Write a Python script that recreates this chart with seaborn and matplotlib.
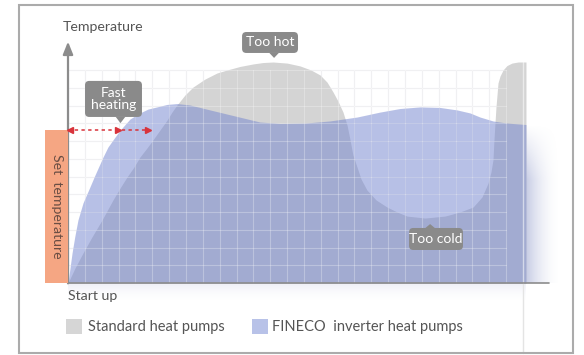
import numpy as np
import matplotlib
matplotlib.use("Agg")
import matplotlib.pyplot as plt
import seaborn as sns
from matplotlib.patches import Rectangle, FancyBboxPatch, Polygon

# Time (x) and temperature (y), both measured in grid cells from the start-up point
standard_time = [0, 0.42, 0.89, 1.42, 2.02, 2.67, 3.09, 3.50, 3.92, 4.27, 4.69, 5.04,
                 5.46, 5.88, 6.17, 6.47, 6.94, 7.42, 8.13, 8.84, 9.44, 10.21, 10.98,
                 11.57, 12.17, 13.00, 13.77, 14.42, 14.96, 15.37, 15.73, 16.02, 16.32,
                 16.56, 16.74, 16.91, 17.15, 17.39, 17.74, 18.28, 18.93, 19.53, 20.12,
                 21.19, 22.37, 23.26, 24.04, 24.57, 24.93, 25.10, 25.22, 25.28, 25.34,
                 25.40, 25.46, 25.52, 25.64, 25.82, 26.05, 26.35, 26.71, 27.18]
standard_temp = [0, 0.85, 1.69, 2.59, 3.55, 4.68, 5.35, 5.97, 6.54, 7.10, 7.61, 8.06,
                 8.62, 9.18, 9.63, 10.03, 10.59, 11.04, 11.49, 11.83, 12.0, 12.20, 12.34,
                 12.42, 12.45, 12.39, 12.23, 12.0, 11.72, 11.32, 10.76, 10.25, 9.63,
                 8.90, 8.06, 7.21, 6.54, 5.86, 5.24, 4.68, 4.28, 4.0, 3.77,
                 3.66, 3.77, 4.0, 4.28, 4.85, 5.63, 6.25, 6.93, 8.06, 9.01,
                 9.92, 10.59, 11.27, 11.66, 12.0, 12.25, 12.39, 12.45, 12.45]

fineco_time = [0, 0.12, 0.24, 0.40, 0.59, 0.89, 1.25, 1.60, 2.08, 2.37, 2.67, 2.97,
               3.26, 3.68, 4.27, 4.75, 5.28, 5.88, 6.47, 7.24, 8.43, 9.91, 11.39,
               12.58, 14.07, 15.55, 17.15, 18.52, 19.70, 20.89, 22.08, 23.09, 23.86,
               24.45, 25.22, 26.05, 27.18]
fineco_temp = [0, 0.85, 1.69, 2.60, 3.55, 4.51, 5.30, 6.08, 7.10, 7.66, 8.06, 8.45,
               8.79, 9.24, 9.58, 9.80, 9.92, 10.06, 10.11, 10.03, 9.75, 9.41, 9.07,
               8.99, 9.01, 9.13, 9.35, 9.63, 9.83, 9.92, 9.89, 9.75, 9.58,
               9.35, 9.13, 9.01, 8.93]

set_temperature = 8.62
fast_heating_span = [0.0, 4.87]

series_labels = ["Standard heat pumps", "FINECO  inverter heat pumps"]
y_label = "Temperature"
x_label = "Start up"
band_label = "Set  temperature"
hot_label = "Too hot"
cold_label = "Too cold"
fast_label = "Fast\nheating"

sns.set_theme(style="white")
plt.rcParams["font.family"] = ["Lato", "DejaVu Sans"]

GREY = "#d4d4d4"
BLUE = "#7183cf"
BLUE_SWATCH = "#b8c2e8"
AXIS = "#8c8c8c"
TEXT = "#555555"
CALLOUT = "#8a8a8a"
RED = "#d8333b"
ORANGE = "#f5a683"

# one data unit = one grid cell (16.85 px wide, 17.75 px tall), origin at the axes corner
CELL_W, CELL_H = 16.85, 17.75
fig = plt.figure(figsize=(5.84, 3.55), dpi=100)
ax = fig.add_axes([0, 0, 1, 1])
ax.set_xlim(-68 / CELL_W, (584 - 68) / CELL_W)
ax.set_ylim(-(355 - 283) / CELL_H, 283 / CELL_H)
ax.axis("off")

# outer frame
fig.patches.append(Rectangle((19 / 584, 2 / 355), 554 / 584, 348 / 355, fill=False,
                             ec="#ababab", lw=1.5, transform=fig.transFigure))

n_cols, n_rows = 26, 12
# background grid
for gx in range(n_cols + 1):
    ax.plot([gx, gx], [0, n_rows], color="#ebebee", lw=0.8, zorder=1)
for gy in range(1, n_rows + 1):
    ax.plot([0, n_cols], [gy, gy], color="#ebebee", lw=0.8, zorder=1)

# soft shadow to the right of and beneath the curves
end_x = fineco_time[-1]
nx, ny = 80, 80
tx = np.linspace(0, 1, nx)
ty = np.linspace(0, 1, ny)
fx = (1 - tx) ** 2
fy = np.clip((1 - ty) / 0.35, 0, 1)
shade = np.zeros((ny, nx, 4))
shade[..., 0], shade[..., 1], shade[..., 2] = 0.47, 0.52, 0.75
shade[..., 3] = 0.42 * np.outer(fy, fx)
ax.imshow(shade, extent=(end_x, end_x + 2.1, 0, fineco_temp[-1]), origin="lower",
          aspect="auto", zorder=1.5, interpolation="bilinear")
under = np.zeros((40, 2, 4))
under[..., 0], under[..., 1], under[..., 2] = 0.47, 0.52, 0.75
under[..., 3] = (0.14 * np.linspace(0, 1, 40) ** 2)[:, None]
ax.imshow(under, extent=(0, end_x, -1.2, 0), origin="lower", aspect="auto",
          zorder=1.5, interpolation="bilinear")

# the two temperature curves
ax.fill_between(standard_time, 0, standard_temp, color=GREY, lw=0, zorder=2)
ax.fill_between(fineco_time, 0, fineco_temp, color=BLUE, alpha=0.5, lw=0, zorder=3)

# grid showing through the fills
for gx in range(n_cols + 1):
    ax.plot([gx, gx], [0, n_rows], color="white", alpha=0.28, lw=0.8, zorder=4)
for gy in range(1, n_rows + 1):
    ax.plot([0, n_cols], [gy, gy], color="white", alpha=0.28, lw=0.8, zorder=4)

# faint end-of-chart line
ax.plot([27.0, 27.0], [-3.94, 0], color="#e4e4e4", lw=1, zorder=4)
ax.plot([27.0, 27.0], [0, 12.45], color="white", alpha=0.55, lw=1, zorder=4)

# axes
ax.plot([0, 28.55], [0, 0], color=AXIS, lw=1.2, zorder=5)
ax.annotate("", xy=(0, 13.6), xytext=(0, -0.02),
            arrowprops=dict(arrowstyle="-|>,head_width=0.3,head_length=0.75",
                            color=AXIS, lw=1.6, shrinkA=0, shrinkB=0, mutation_scale=10),
            zorder=5)
ax.text(-0.3, 14.42, y_label, ha="left", va="center", fontsize=10.2, color=TEXT)
ax.text(0, -0.75, x_label, ha="left", va="center", fontsize=10.2, color=TEXT)

# set temperature band
ax.add_patch(Rectangle((-1.36, 0), 1.36, set_temperature, color=ORANGE, lw=0, zorder=5))
ax.text(-0.68, set_temperature / 2, band_label, rotation=-90, ha="center", va="center",
        fontsize=10.2, color="#6a4e44", zorder=6)

# fast-heating span along the set temperature
rise = int(np.argmax(fineco_temp)) + 1
reach_x = float(np.interp(set_temperature, fineco_temp[:rise], fineco_time[:rise]))
ax.plot(fast_heating_span, [set_temperature] * 2, color=RED, lw=1.1, ls=(0, (2.2, 2.2)),
        zorder=6)
ax.plot([fast_heating_span[0] + 0.12], [set_temperature], marker="<", ms=4.5, color=RED,
        mec=RED, zorder=6)
ax.plot([reach_x - 0.12, fast_heating_span[1] - 0.12], [set_temperature] * 2, ls="none",
        marker=">", ms=4.5, color=RED, mec=RED, zorder=6)


def callout(cx, cy, w, h, text, tip, pointer_up=False):
    ax.add_patch(FancyBboxPatch((cx - w / 2, cy - h / 2), w, h,
                                boxstyle="round,pad=0,rounding_size=0.25",
                                fc=CALLOUT, ec="none", zorder=7,
                                mutation_aspect=CELL_W / CELL_H))
    base_y = cy + h / 2 if pointer_up else cy - h / 2
    ax.add_patch(Polygon([(tip[0] - 0.28, base_y), (tip[0] + 0.28, base_y), tip],
                         closed=True, fc=CALLOUT, ec="none", zorder=7))
    ax.text(cx, cy, text, ha="center", va="center", color="white", fontsize=10,
            linespacing=1.05, zorder=8)


peak = int(np.argmax(standard_temp))
peak_x, peak_y = standard_time[peak], standard_temp[peak]
callout(11.99, 13.55, 3.32, 1.18, hot_label, (peak_x + 0.06, peak_y + 0.23))

low = int(np.argmin(standard_temp[20:])) + 20
low_x, low_y = standard_time[low], standard_temp[low]
callout(21.84, 2.48, 3.2, 1.24, cold_label, (low_x + 0.3, low_y - 0.34), pointer_up=True)

callout(2.70, 10.37, 3.38, 2.03, fast_label, (reach_x, set_temperature + 0.39))

# legend
ax.add_patch(Rectangle((-0.12, -2.87), 0.95, 0.84, color="#d6d6d6", lw=0))
ax.text(1.19, -2.46, series_labels[0], ha="left", va="center", fontsize=10.5, color=TEXT)
ax.add_patch(Rectangle((10.92, -2.87), 0.95, 0.84, color=BLUE_SWATCH, lw=0))
ax.text(12.11, -2.46, series_labels[1], ha="left", va="center", fontsize=10.5, color=TEXT)

fig.savefig("out.png", dpi=100)
